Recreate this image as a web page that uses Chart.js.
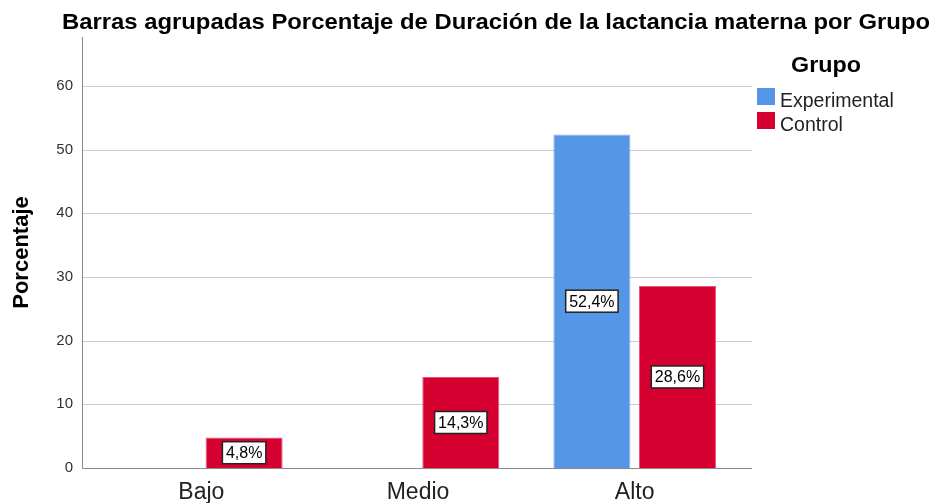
<!DOCTYPE html>
<html lang="es">
<head>
  <meta charset="UTF-8">
  <title>Barras agrupadas</title>
  <script src="https://cdn.jsdelivr.net/npm/chart.js"></script>
  <style>
    body { margin: 0; background: #fff; }
    #wrap { width: 938px; height: 503px; }
  </style>
</head>
<body>
  <div id="wrap"><canvas id="lactChart" width="938" height="503"></canvas></div>

  <script>
    // Datos
    const categorias = ['Bajo', 'Medio', 'Alto'];
    const experimental = [0, 0, 52.4];
    const control = [4.8, 14.3, 28.6];
    const ticksY = [0, 10, 20, 30, 40, 50, 60];

    const titulo = 'Barras agrupadas Porcentaje de Duración de la lactancia materna por Grupo';
    const FONT = '"Liberation Sans", Arial, sans-serif';

    // texto algo ensanchado, como en el original
    function texto(ctx, txt, x, y, sx) {
      ctx.save();
      ctx.translate(x, y);
      ctx.scale(sx, 1);
      ctx.fillText(txt, 0, 0);
      ctx.restore();
    }

    // Ejes, rejilla, título, etiquetas y leyenda dibujados a mano
    const extras = {
      id: 'extras',
      beforeDatasetsDraw(chart) {
        const ctx = chart.ctx;
        const y = chart.scales.y;
        const left = 82, right = 752, top = 37;
        ctx.save();
        ctx.strokeStyle = '#cccccc';
        ctx.lineWidth = 1;
        ticksY.forEach(v => {
          if (v === 0) return;
          const py = Math.round(y.getPixelForValue(v)) + 0.5;
          ctx.beginPath(); ctx.moveTo(left, py); ctx.lineTo(right, py); ctx.stroke();
        });
        ctx.strokeStyle = '#888888';
        const by = Math.round(y.getPixelForValue(0)) + 0.5;
        ctx.beginPath(); ctx.moveTo(left + 0.5, top); ctx.lineTo(left + 0.5, by); ctx.lineTo(right, by); ctx.stroke();
        ctx.restore();
      },
      afterDatasetsDraw(chart) {
        const ctx = chart.ctx;
        ctx.save();
        ctx.font = '16px ' + FONT;
        ctx.textAlign = 'center';
        ctx.textBaseline = 'middle';
        chart.data.datasets.forEach((ds, i) => {
          chart.getDatasetMeta(i).data.forEach((bar, j) => {
            const v = ds.data[j];
            if (!v) return;
            const txt = v.toFixed(1).replace('.', ',') + '%';
            const cy = (bar.y + bar.base) / 2;
            const w = ctx.measureText(txt).width + 7;
            const h = 22;
            ctx.fillStyle = '#ffffff';
            ctx.fillRect(bar.x - w / 2, cy - h / 2, w, h);
            ctx.strokeStyle = '#222222';
            ctx.lineWidth = 1.5;
            ctx.strokeRect(bar.x - w / 2, cy - h / 2, w, h);
            ctx.fillStyle = '#000000';
            ctx.fillText(txt, bar.x, cy + 1);
          });
        });
        ctx.restore();
      },
      afterDraw(chart) {
        const ctx = chart.ctx;
        ctx.save();
        // título
        ctx.fillStyle = '#000000';
        ctx.font = 'bold 22px ' + FONT;
        ctx.textAlign = 'center';
        ctx.textBaseline = 'alphabetic';
        texto(ctx, titulo, 496, 29, 1.084);
        // leyenda
        ctx.font = 'bold 22px ' + FONT;
        texto(ctx, 'Grupo', 826, 72, 1.06);
        ctx.textAlign = 'left';
        ctx.font = '19.5px ' + FONT;
        chart.data.datasets.forEach((ds, i) => {
          const ly = 88 + i * 24;
          ctx.fillStyle = ds.backgroundColor;
          ctx.fillRect(757, ly, 18, 17);
          ctx.fillStyle = '#222222';
          ctx.fillText(ds.label, 780, ly + 19);
        });
        ctx.restore();
      }
    };

    const ctx = document.getElementById('lactChart').getContext('2d');
    new Chart(ctx, {
      type: 'bar',
      data: {
        labels: categorias,
        datasets: [{
          label: 'Experimental',
          data: experimental,
          backgroundColor: '#5596e6',
          borderColor: '#86b4ee',
          borderWidth: 1,
          categoryPercentage: 0.79,
          barPercentage: 0.9
        }, {
          label: 'Control',
          data: control,
          backgroundColor: '#d5002f',
          borderColor: '#e4577a',
          borderWidth: 1,
          categoryPercentage: 0.79,
          barPercentage: 0.9
        }]
      },
      options: {
        responsive: false,
        animation: false,
        layout: { padding: { left: 0, right: 195, top: 37, bottom: 0 } },
        plugins: {
          legend: { display: false },
          title: { display: false },
          tooltip: { enabled: false }
        },
        scales: {
          x: {
            grid: { display: false },
            border: { display: false },
            ticks: { color: '#222222', font: { family: FONT, size: 23 }, padding: 3 },
            afterFit: s => { s.height = 35; }
          },
          y: {
            min: 0,
            max: 67.7,
            grid: { display: false },
            border: { display: false },
            afterBuildTicks: s => { s.ticks = s.ticks.filter(t => ticksY.includes(t.value)); },
            ticks: { stepSize: 10, color: '#333333', font: { family: FONT, size: 15 }, padding: 12 },
            title: {
              display: true,
              text: 'Porcentaje',
              color: '#000000',
              font: { family: FONT, size: 22, weight: 'bold' },
              padding: { top: 9, bottom: 0 }
            },
            afterFit: s => { s.width = 93; }
          }
        }
      },
      plugins: [extras]
    });
  </script>
</body>
</html>
